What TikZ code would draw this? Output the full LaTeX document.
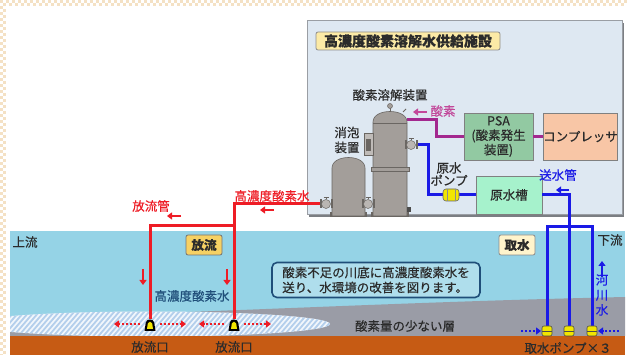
\documentclass[tikz,border=0pt]{standalone}
\usepackage{fontspec}
\setmainfont{Noto Sans CJK JP}[FakeBold=0.4]
\usetikzlibrary{arrows.meta,calc}

\definecolor{water}{HTML}{95D3E6}
\definecolor{mud}{HTML}{C65B14}
\definecolor{poor}{HTML}{9A9CA6}
\definecolor{plant}{HTML}{DEE8F2}
\definecolor{plantedge}{HTML}{9A9EA4}
\definecolor{pipered}{HTML}{EE1C25}
\definecolor{pipeblue}{HTML}{1A1AE6}
\definecolor{pipemag}{HTML}{A3288F}
\definecolor{oxtext}{HTML}{C2489A}
\definecolor{steel}{HTML}{A39E9A}
\definecolor{steeldark}{HTML}{6A6662}
\definecolor{titlefill}{HTML}{FCEAA6}
\definecolor{gold}{HTML}{F6D164}
\definecolor{cream}{HTML}{FFF4CC}
\definecolor{psafill}{HTML}{92C9A2}
\definecolor{compfill}{HTML}{F8C6A6}
\definecolor{tankfill}{HTML}{A6F2CC}
\definecolor{navy}{HTML}{1F4E79}
\definecolor{ink}{HTML}{2B2B2B}
\definecolor{checker}{HTML}{F4E1C4}
\definecolor{hatch}{HTML}{B4CFEC}
\definecolor{hatchbase}{HTML}{F2F7FC}
\definecolor{pumpyellow}{HTML}{F2E600}

\tikzset{
  lbl/.style={font=\fontsize{12.5pt}{14.5pt}\selectfont, text=ink, inner sep=0pt},
  tagbox/.style={lbl, font=\fontsize{12.5pt}{14.5pt}\selectfont\bfseries, draw=#1,
    line width=0.8pt, rounded corners=2pt, minimum width=36pt, minimum height=20pt},
  unitbox/.style={lbl, draw=gray, line width=0.8pt, align=center},
  redpipe/.style={draw=pipered, line width=3pt},
  bluepipe/.style={draw=pipeblue, line width=3pt},
  magpipe/.style={draw=pipemag, line width=3pt},
  redarr/.style={draw=pipered, line width=2pt, -{Triangle[length=5pt,width=7pt]}},
  bluearr/.style={draw=pipeblue, line width=2pt, -{Triangle[length=5pt,width=7pt]}},
  magarr/.style={draw=oxtext, line width=2pt, -{Triangle[length=5pt,width=7pt]}},
  redflow/.style={draw=pipered, line width=2pt, dash pattern=on 2pt off 2pt,
    -{Triangle[length=5pt,width=7pt]}},
  blueflow/.style={draw=pipeblue, line width=2pt, dash pattern=on 2pt off 2pt,
    -{Triangle[length=5pt,width=7pt]}},
  pics/valve/.style={code={
    \fill[steeldark] (-6.5,-4.5) rectangle (-4.5,4.5);
    \fill[steeldark] (4.5,-4.5) rectangle (6.5,4.5);
    \filldraw[fill=steel!75!white, draw=steeldark, line width=0.5pt] (0,0) circle (4.5pt);
    \draw[steeldark, line width=0.8pt] (0,-4.5) -- (0,-7) (-2.5,-7) -- (2.5,-7);
  }},
  pics/nozzle/.style={code={
    \fill[black] (-5.5,6) -- (-4.2,-2.5) .. controls (-3.5,-6.5) and (3.5,-6.5) .. (4.2,-2.5) -- (5.5,6) -- cycle;
    \fill[pumpyellow] (-3,4) -- (-2.2,-1.5) .. controls (-1.6,-4) and (1.6,-4) .. (2.2,-1.5) -- (3,4) -- cycle;
  }},
  pics/intake/.style={code={
    \filldraw[fill=pumpyellow, draw=black!70, line width=0.6pt, rounded corners=2pt] (-5,-5) rectangle (5,5);
    \draw[black!70, line width=0.6pt] (-5,0) -- (5,0);
  }},
  pics/rawpump/.style={code={
    \filldraw[fill=pumpyellow, draw=black!60, line width=0.6pt, rounded corners=3pt] (-8,-6) rectangle (8,6);
    \draw[black!45, line width=0.8pt] (-4,-6) -- (-4,6) (4,-6) -- (4,6);
  }},
}

\begin{document}
\begin{tikzpicture}[x=1pt,y=-1pt]
\useasboundingbox (0,0) rectangle (627,355);
\fill[white] (0,0) rectangle (627,355);

% checkered frame along top and left
\foreach \x in {0,6,...,624} {
  \fill[checker] (\x,0) rectangle ++(3,3);
  \fill[checker] (\x+3,3) rectangle ++(3,3);
}
\foreach \y in {6,12,...,354} {
  \fill[checker] (0,\y) rectangle ++(3,3);
  \fill[checker] (3,\y+3) rectangle ++(3,3);
}

% river
\fill[water] (10,231) rectangle (625,355);
\fill[poor] (10,336) -- (10,318) .. controls (250,311) and (400,302) .. (625,297) -- (625,336) -- cycle;
\begin{scope}
  \clip (10,290) rectangle (625,336);
  \clip (150,324) ellipse [x radius=180pt, y radius=12.5pt];
  \fill[hatchbase] (0,300) rectangle (340,340);
  \foreach \k in {-40,-35,...,350} \draw[hatch, line width=1.8pt] (\k,340) -- (\k+30,305);
\end{scope}
\fill[mud] (10,336) rectangle (625,355);

% supply facility
\fill[plantedge!80!black] (309,23) rectangle (624,217);
\filldraw[fill=plant, draw=plantedge, line width=1pt] (307,21) rectangle (622,215);
\node[lbl, font=\fontsize{14pt}{16pt}\selectfont\bfseries, fill=titlefill, draw=black!45,
  line width=0.8pt, rounded corners=2pt, minimum width=184pt, minimum height=18pt]
  (title) at (408,41) {高濃度酸素溶解水供給施設};

% oxygen dissolver
\fill[steeldark] (371,212) rectangle (409,217);
\filldraw[fill=steel, draw=steeldark, line width=0.6pt] (373,216) -- (373,122)
  .. controls (373,108) and (407,108) .. (407,122) -- (407,216) -- cycle;
\draw[steeldark, line width=0.5pt] (373,123) -- (407,123);
\filldraw[fill=steel, draw=steeldark, line width=0.6pt] (371,167) rectangle (409,171);
\draw[steeldark, line width=1pt] (390,111) -- (390,107);
\filldraw[fill=steel, draw=steeldark, line width=0.5pt] (390,106) circle (2.5pt);
\filldraw[fill=steel!70!white, draw=steeldark, line width=0.6pt] (364,133) rectangle (373,155);
\fill[steeldark] (366,139) rectangle (371,151);
\fill[black!70] (407,207) rectangle (411,212);
\draw[steeldark, line width=1pt] (403,112) -- (406,109);

% defoamer
\fill[steeldark] (330,212) rectangle (367,217);
\filldraw[fill=steel, draw=steeldark, line width=0.6pt] (332,216) -- (332,168)
  .. controls (332,154) and (365,154) .. (365,168) -- (365,216) -- cycle;

\node[lbl] (dissLbl) at (390,95) {酸素溶解装置};
\node[lbl, align=center, font=\fontsize{12.5pt}{15pt}\selectfont] (defLbl) at (347,140) {消泡\\装置};

% units
\node[unitbox, fill=psafill, minimum width=69pt, minimum height=47pt,
  font=\fontsize{12.5pt}{14.5pt}\selectfont] (psa) at (498.5,136.5) {PSA\\(酸素発生\\装置)};
\node[unitbox, fill=compfill, minimum width=69pt, minimum height=47pt] (comp) at (580.5,136.5) {コンプレッサ};
\node[unitbox, fill=tankfill, minimum width=66pt, minimum height=38pt] (tank) at (509,195) {原水槽};

% connection points
\coordinate (oxIn) at (407,120);
\coordinate (oxBend) at (436,120);
\coordinate (vDef) at (320,204);
\coordinate (vDis) at (416,145);
\coordinate (rawBend) at (428,195);
\coordinate (n1) at (150,319);
\coordinate (n2) at (234,319);
\coordinate (branch) at (234,226);
\coordinate (p1) at (547,326);
\coordinate (p2) at (569,326);
\coordinate (p3) at (592,326);
\coordinate (frameTop) at (569,227);

% oxygen line
\draw[magpipe] (oxIn) -- (oxBend) |- (psa.west);
\draw[magpipe] (psa.east) -- (comp.west);

% raw water line
\draw[bluepipe] (vDis) -| (rawBend) -- (tank.west);
\pic at (451,195) {rawpump};

% delivery line to the pumps
\draw[bluepipe] (tank.east) -- (tank.east -| p2) -- (p2);
\draw[bluepipe] (p1) |- (frameTop) -| (p3);

% discharge line
\draw[redpipe] (vDef) -- (vDef -| n2) -- (n2);
\draw[redpipe] (branch) -| (n1);

% valves
\pic at (326,204) {valve};
\pic at (368,204) {valve};
\pic at (411,145) {valve};

% nozzles and pumps
\pic at (150,325) {nozzle};
\pic at (234,325) {nozzle};
\pic at (547,331) {intake};
\pic at (569,331) {intake};
\pic at (592,331) {intake};

% labels in the facility
\node[lbl, text=oxtext] (oxLbl) at (443,111) {酸素};
\draw[magarr] (427,112) -- (413,112);
\node[lbl, align=center, font=\fontsize{12.5pt}{12.5pt}\selectfont] (pumpLbl) at (449,174) {原水\\ポンプ};
\node[lbl, text=pipeblue] (sendLbl) at (558,175) {送水管};
\draw[bluearr] (569,190) -- (556,190);

% discharge labels
\node[lbl, text=pipered] (hiLbl) at (272,196) {高濃度酸素水};
\draw[redarr] (274,210) -- (260,210);
\node[lbl, text=pipered] (outPipeLbl) at (151,206) {放流管};
\draw[redarr] (181,216) -- (167,216);
\draw[redarr] (143,269) -- (143,285);
\draw[redarr] (227,269) -- (227,285);
\node[lbl, text=navy] (hiWater) at (192,296) {高濃度酸素水};

\draw[redflow] (140,324) -- (114,324);
\draw[redflow] (160,324) -- (186,324);
\draw[redflow] (224,324) -- (199,324);
\draw[redflow] (244,324) -- (271,324);

\draw[blueflow] (521,331) -- (541,331);
\draw[blueflow] (619,331) -- (598,331);
\draw[bluearr] (602,277) -- (602,261);

% river labels
\node[lbl] (up) at (25,242) {上流};
\node[lbl] (down) at (610,240) {下流};
\node[tagbox=black!55, fill=gold] (dis) at (204,245) {放流};
\node[tagbox=black!45, fill=cream] (intakeTag) at (517,245) {取水};
\node[lbl, align=left, font=\fontsize{12.5pt}{15pt}\selectfont, fill=water!75!white,
  draw=navy, line width=1.6pt, rounded corners=5pt, minimum width=208pt, minimum height=35pt]
  (msg) at (376,280) {酸素不足の川底に高濃度酸素水を\\送り、水環境の改善を図ります。};
\node[lbl, text=pipeblue, align=center, font=\fontsize{12.5pt}{15pt}\selectfont] (riverLbl) at (602,295) {河\\川\\水};
\node[lbl] (poorLbl) at (405,326) {酸素量の少ない層};
\node[lbl] (o1) at (150,347) {放流口};
\node[lbl] (o2) at (234,347) {放流口};
\node[lbl] (pumps) at (568,348) {取水ポンプ×３};
\end{tikzpicture}
\end{document}
